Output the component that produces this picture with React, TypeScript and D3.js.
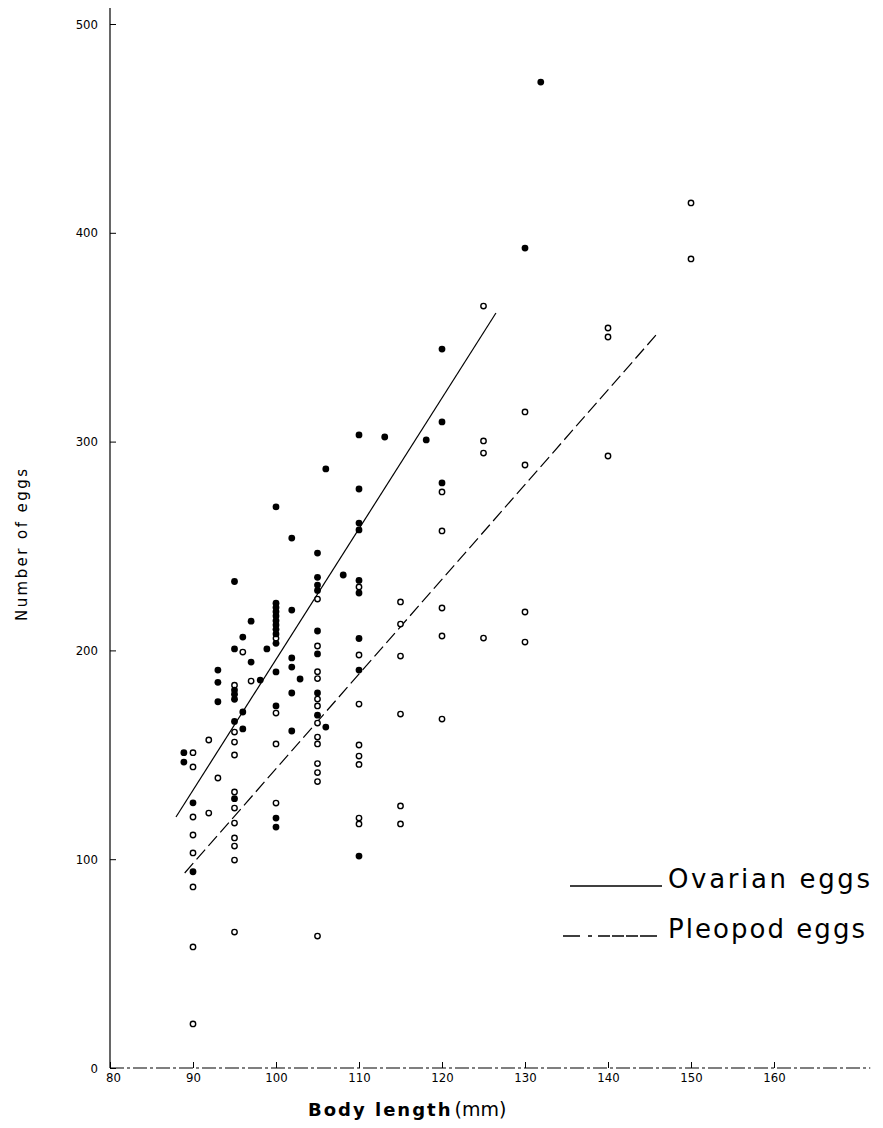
import React, {Component} from "react";
import * as d3 from "d3";

// Ovarian eggs (filled dots): body length (mm) and number of eggs
const ovarianLength = [
    88.9, 88.9, 90, 90,
    93, 93, 93,
    95, 95, 95, 95, 95, 95, 95,
    96, 96, 96, 97, 97, 98.1, 98.9,
    100, 100, 100, 100, 100, 100, 100, 100, 100, 100, 100, 100, 100, 100,
    101.9, 101.9, 101.9, 101.9, 101.9, 101.9, 102.9,
    105, 105, 105, 105, 105, 105, 105, 105,
    106, 106, 108.1,
    110, 110, 110, 110, 110, 110, 110, 110, 110,
    113.1, 118.1,
    120, 120, 120,
    130, 131.9
];
const ovarianEggs = [
    151, 146.5, 127, 94,
    190.6, 184.7, 175.4,
    233, 200.7, 181, 179, 176.6, 166, 129,
    206.4, 170.5, 162.4, 214, 194.4, 185.8, 200.7,
    268.7, 222.6, 220.6, 218.5, 216.5, 214.2, 212.2, 210.1, 207.9, 203.4, 189.7, 173.4, 119.7, 115.4,
    253.8, 219.3, 196.4, 192, 179.6, 161.4, 186.3,
    246.6, 235, 231.3, 228.7, 209.3, 198.3, 179.6, 169,
    286.9, 163.3, 236.1,
    303.2, 277.3, 261, 257.7, 233.5, 227.5, 205.7, 190.6, 101.5,
    302.2, 300.8,
    344.3, 309.4, 280.2,
    392.7, 472.2
];

// Pleopod eggs (open circles)
const pleopodLength = [
    90, 90, 90, 90, 90, 90, 90, 90,
    91.9, 91.9, 93,
    95, 95, 95, 95, 95, 95, 95, 95, 95, 95, 95,
    96, 97,
    100, 100, 100, 100,
    105, 105, 105, 105, 105, 105, 105, 105, 105, 105, 105, 105, 105,
    110, 110, 110, 110, 110, 110, 110, 110,
    115, 115, 115, 115, 115, 115,
    120, 120, 120, 120, 120,
    125, 125, 125, 125,
    130, 130, 130, 130,
    140, 140, 140,
    150, 150
];
const pleopodEggs = [
    151, 144.2, 120.2, 111.6, 103, 86.7, 58, 21.1,
    157.1, 122.1, 138.9,
    183.3, 160.9, 156.1, 149.9, 132.2, 124.5, 117.3, 110.2, 106.3, 99.6, 65.1,
    199.2, 185.3,
    205.8, 170, 155.2, 126.9,
    224.6, 202.1, 189.8, 186.5, 176.7, 173.4, 165.2, 158.5, 155.2, 145.8, 141.5, 137.2, 63.2,
    230.4, 197.8, 174.3, 154.7, 149.4, 145.4, 119.7, 116.9,
    223.2, 212.6, 197.3, 169.5, 125.5, 116.9,
    275.9, 257.2, 220.3, 206.9, 167.1,
    364.9, 300.3, 294.5, 205.9,
    314.2, 288.8, 218.4, 204,
    354.4, 350.1, 293.1,
    414.3, 387.5
];

// fitted lines (start and end)
const ovarianLineLength = [87.95, 126.5];
const ovarianLineEggs = [120.2, 361.6];
const pleopodLineLength = [89.0, 146.0];
const pleopodLineEggs = [93.4, 352];

const xTicks = [80, 90, 100, 110, 120, 130, 140, 150, 160];
const yTicks = [0, 100, 200, 300, 400, 500];

const tickFont = "'DejaVu Sans Condensed', 'Liberation Sans Narrow', 'DejaVu Sans', sans-serif";
const labelFont = "'DejaVu Sans', 'Liberation Sans', sans-serif";

class App extends Component
{
    svgRef = React.createRef<SVGSVGElement>();

    componentDidMount()
    {
        this.renderChart();
    }

    renderChart()
    {
        const svg = d3.select(this.svgRef.current);
        svg.selectAll("*").remove();

        const x = d3.scaleLinear().domain([80, 170]).range([110, 857]);
        const y = d3.scaleLinear().domain([0, 500]).range([1068, 24]);

        // axes, ticks pointing inward as in the print
        const xAxis = svg.append("g")
            .attr("transform", `translate(0,${y(0)})`)
            .call(d3.axisBottom(x).tickValues(xTicks).tickSize(-6).tickPadding(5).tickFormat(d3.format("d")));
        xAxis.select(".domain").remove();
        xAxis.selectAll("text").style("font-family", tickFont).style("font-size", "13px").attr("dx", (d: any) => d === 80 ? 3 : 0);

        svg.append("line")
            .attr("x1", x(80)).attr("x2", x(171.6))
            .attr("y1", y(0)).attr("y2", y(0))
            .attr("stroke", "#000")
            .attr("stroke-width", 1.2)
            .attr("stroke-dasharray", "14,3,3,3");

        const yAxis = svg.append("g")
            .attr("transform", `translate(${x(80)},0)`)
            .call(d3.axisLeft(y).tickValues(yTicks).tickSize(-6).tickPadding(12).tickFormat(d3.format("d")));
        yAxis.select(".domain").remove();
        yAxis.selectAll("text").style("font-family", tickFont).style("font-size", "13px");

        svg.append("line")
            .attr("x1", x(80)).attr("x2", x(80))
            .attr("y1", y(0)).attr("y2", 8)
            .attr("stroke", "#000")
            .attr("stroke-width", 1.2);

        // fitted lines
        svg.append("line")
            .attr("x1", x(ovarianLineLength[0])).attr("y1", y(ovarianLineEggs[0]))
            .attr("x2", x(ovarianLineLength[1])).attr("y2", y(ovarianLineEggs[1]))
            .attr("stroke", "#000")
            .attr("stroke-width", 1.2);

        svg.append("line")
            .attr("x1", x(pleopodLineLength[0])).attr("y1", y(pleopodLineEggs[0]))
            .attr("x2", x(pleopodLineLength[1])).attr("y2", y(pleopodLineEggs[1]))
            .attr("stroke", "#000")
            .attr("stroke-width", 1.2)
            .attr("stroke-dasharray", "13,5");

        // points
        svg.append("g")
            .selectAll("circle")
            .data(pleopodLength)
            .enter()
            .append("circle")
            .attr("cx", (d) => x(d))
            .attr("cy", (d, i) => y(pleopodEggs[i]))
            .attr("r", 2.7)
            .attr("fill", "#fff")
            .attr("stroke", "#000")
            .attr("stroke-width", 1.4);

        svg.append("g")
            .selectAll("circle")
            .data(ovarianLength)
            .enter()
            .append("circle")
            .attr("cx", (d) => x(d))
            .attr("cy", (d, i) => y(ovarianEggs[i]))
            .attr("r", 3.4)
            .attr("fill", "#000");

        // axis titles
        const xTitle = svg.append("text")
            .attr("x", 308)
            .attr("y", 1116)
            .style("font-family", labelFont);
        xTitle.append("tspan")
            .style("font-size", "18px")
            .style("font-weight", "bold")
            .style("letter-spacing", "2px")
            .text("Body length");
        xTitle.append("tspan")
            .style("font-size", "19px")
            .attr("dx", 2)
            .text("(mm)");

        svg.append("text")
            .attr("transform", "translate(27,545) rotate(-90)")
            .attr("text-anchor", "middle")
            .attr("textLength", 152)
            .style("font-family", labelFont)
            .style("font-size", "15px")
            .text("Number of eggs");

        // legend
        const legend = svg.append("g");

        legend.append("line")
            .attr("x1", 570).attr("x2", 662)
            .attr("y1", 886).attr("y2", 886)
            .attr("stroke", "#000")
            .attr("stroke-width", 1.5);
        legend.append("text")
            .attr("x", 668)
            .attr("y", 888)
            .attr("textLength", 202)
            .style("font-family", labelFont)
            .style("font-size", "26px")
            .text("Ovarian eggs");

        legend.append("line")
            .attr("x1", 563).attr("x2", 664)
            .attr("y1", 936).attr("y2", 936)
            .attr("stroke", "#000")
            .attr("stroke-width", 1.5)
            .attr("stroke-dasharray", "17,8,4,6,12,2,12,2,12,2");
        legend.append("text")
            .attr("x", 668)
            .attr("y", 938)
            .attr("textLength", 197)
            .style("font-family", labelFont)
            .style("font-size", "26px")
            .text("Pleopod eggs");
    }

    render()
    {
        return (
            <svg
                ref={this.svgRef}
                width={883}
                height={1128}
                style={{position: "absolute", left: 0, top: 0, background: "#fff"}}
            ></svg>
        );
    }
}

export default App;
